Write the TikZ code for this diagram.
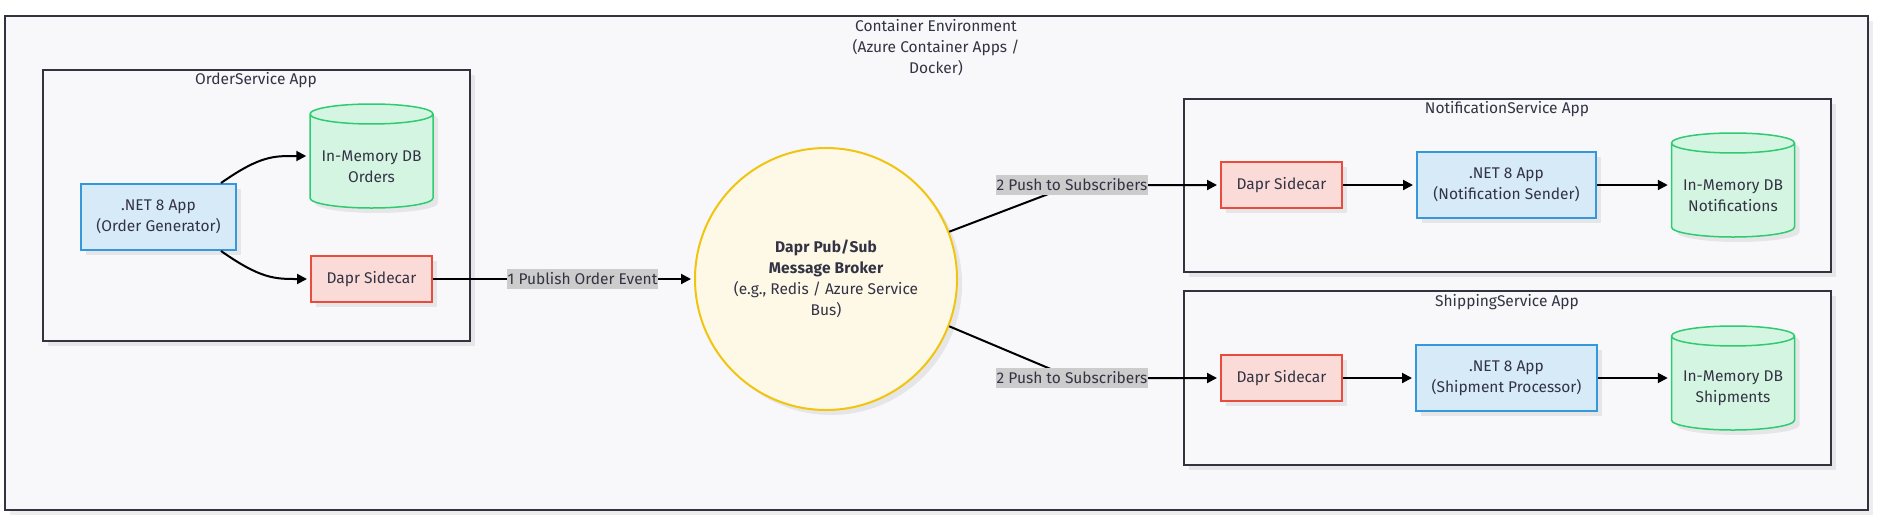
\documentclass[tikz,border=0pt]{standalone}
\usepackage{fontspec}
\setmainfont{Fira Sans}
\usetikzlibrary{arrows.meta,shapes.geometric,shadows}
\definecolor{ink}{HTML}{333344}
\definecolor{frame}{HTML}{333340}
\definecolor{bgc}{HTML}{F8F8FA}
\definecolor{appfill}{HTML}{D6EAF8}
\definecolor{appline}{HTML}{3498DB}
\definecolor{sidefill}{HTML}{FADBD8}
\definecolor{sideline}{HTML}{E74C3C}
\definecolor{dbfill}{HTML}{D5F5E3}
\definecolor{dbline}{HTML}{2ECC71}
\definecolor{brkfill}{HTML}{FEF9E7}
\definecolor{brkline}{HTML}{F1C40F}
\definecolor{lblc}{HTML}{CCCCCC}
\newcommand\brkbold[1]{{\bfseries\addfontfeature{LetterSpace=1.5}#1}}
\begin{document}
\begin{tikzpicture}[x=1pt,y=-1pt,
    every node/.style={font=\fontsize{15.5}{21}\selectfont,text=ink},
    shade/.style={drop shadow={shadow xshift=5pt,shadow yshift=-5pt,fill=black,opacity=.07}},
    group/.style={draw=frame,line width=2pt,fill=bgc,shade},
    app/.style={draw=appline,fill=appfill,line width=2pt,align=center,minimum height=66pt,shade},
    side/.style={draw=sideline,fill=sidefill,line width=2pt,minimum width=121pt,minimum height=46pt,shade},
    db/.style={cylinder,shape border rotate=90,aspect=.2,draw=dbline,fill=dbfill,line width=1.5pt,
      align=center,minimum width=123pt,minimum height=104pt,inner sep=0pt,anchor=shape center,shade,
      execute at begin node=\rule{0pt}{42pt}},
    broker/.style={circle,draw=brkline,fill=brkfill,line width=2pt,minimum size=262pt,inner sep=0pt,align=center,shade},
    flow/.style={line width=2pt,-{Triangle[length=10pt,width=10pt]},shorten >=3pt},
    lbl/.style={fill=lblc,inner sep=1pt,minimum height=20pt}]
  \useasboundingbox[fill=white] (0,0) rectangle (1887,528);

  % containers
  \draw[group] (5,16) rectangle (1868,510);
  \node[align=center] (envtitle) at (936,48) {Container Environment\\(Azure Container Apps /\\Docker)};
  \draw[group] (43,70) rectangle (470,341);
  \node (ordtitle) at (256,80) {OrderService App};
  \draw[group] (1184,99) rectangle (1831,272);
  \node (nottitle) at (1507,109) {NotificationService App};
  \draw[group] (1184,291) rectangle (1831,465);
  \node (shptitle) at (1507,302) {ShippingService App};

  % order service
  \node[app,minimum width=155pt] (ordapp) at (158.5,217) {.NET 8 App\\(Order Generator)};
  \node[db] (orddb) at (371.5,156) {In-Memory DB\\Orders};
  \node[side] (orddapr) at (371.5,279) {Dapr Sidecar};

  % broker
  \node[broker] (broker) at (826,279) {\brkbold{Dapr Pub/Sub}\\\brkbold{Message Broker}\\(e.g., Redis / Azure Service\\Bus)};

  % subscribers
  \node[side] (notdapr) at (1281.5,185) {Dapr Sidecar};
  \node[app,minimum width=179pt] (notapp) at (1506.5,185) {.NET 8 App\\(Notification Sender)};
  \node[db] (notdb) at (1733,185) {In-Memory DB\\Notifications};
  \node[side] (shpdapr) at (1281.5,378) {Dapr Sidecar};
  \node[app,minimum width=181pt] (shpapp) at (1506.5,378) {.NET 8 App\\(Shipment Processor)};
  \node[db] (shpdb) at (1733,378) {In-Memory DB\\Shipments};

  % connectors
  \draw[flow] ([xshift=-16pt]ordapp.north east) .. controls +(40,-28) and +(-35,0) .. (orddb.west |- orddb.shape center);
  \draw[flow] ([xshift=-16pt]ordapp.south east) .. controls +(40,28) and +(-35,0) .. (orddapr.west);
  \draw[flow] (orddapr) -- node[lbl,pos=.573]{1 Publish Order Event} (broker);
  \coordinate (fork1) at (1072,185);
  \coordinate (fork2) at (1072,378);
  \draw[flow] (broker.21) -- (fork1) node[lbl]{2 Push to Subscribers} -- (notdapr.west);
  \draw[flow] (broker.-21) -- (fork2) node[lbl]{2 Push to Subscribers} -- (shpdapr.west);
  \draw[flow] (notdapr) -- (notapp);
  \draw[flow] (notapp.east) -- (notapp.east -| notdb.west);
  \draw[flow] (shpdapr) -- (shpapp);
  \draw[flow] (shpapp.east) -- (shpapp.east -| shpdb.west);
\end{tikzpicture}
\end{document}
